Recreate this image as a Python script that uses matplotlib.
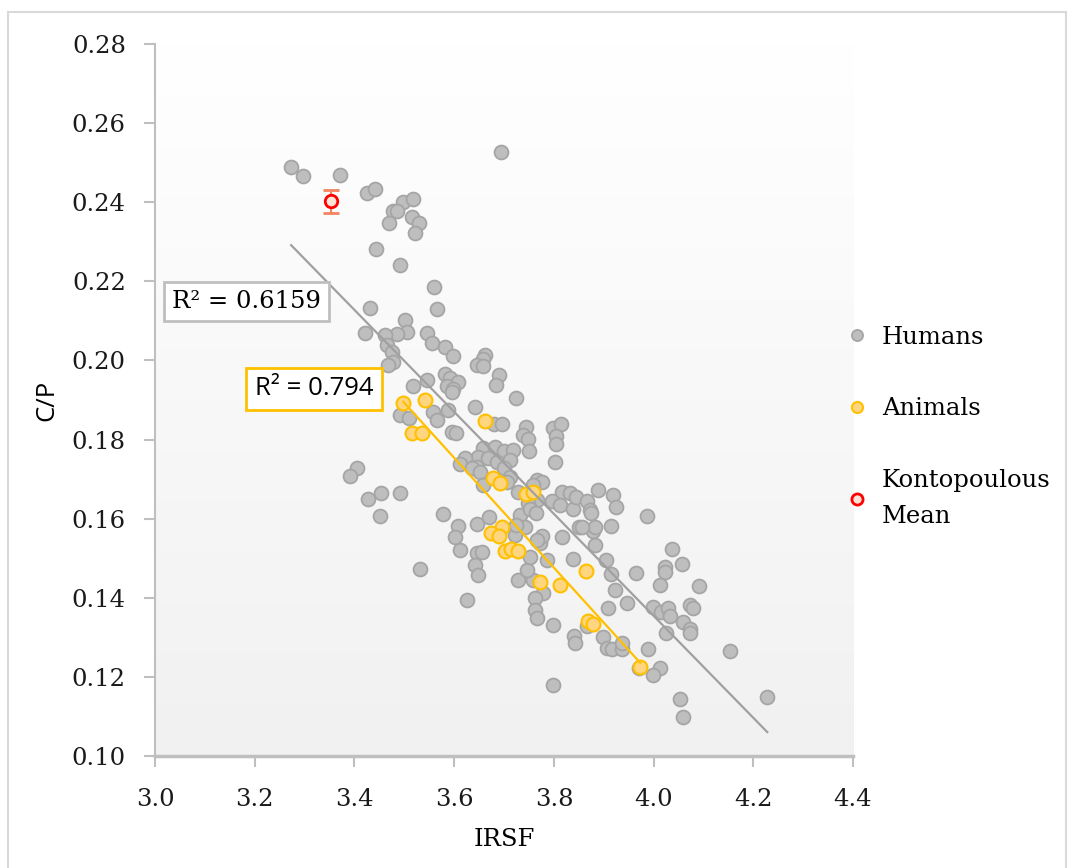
#!/usr/bin/env python3
"""C/P versus IRSF scatter with linear trendlines (Humans, Animals, Kontopoulous mean)."""

import matplotlib

matplotlib.use("Agg")
import matplotlib.pyplot as plt
import numpy as np
from matplotlib.colors import LinearSegmentedColormap
from matplotlib.lines import Line2D
from matplotlib.patches import Rectangle

# ---- data ----
humans_irsf = [
    3.273, 3.297, 3.372, 3.425, 3.441, 3.498, 3.517, 3.477, 3.486, 3.470,
    3.515, 3.530, 3.521, 3.694, 3.443, 3.491, 3.560, 3.565, 3.431, 3.501,
    3.505, 3.485, 3.421, 3.461, 3.545, 3.465, 3.475, 3.478, 3.468, 3.555,
    3.582, 3.597, 3.662, 3.658, 3.645, 3.658, 3.689, 3.683, 3.582, 3.592,
    3.608, 3.585, 3.598, 3.595, 3.545, 3.517, 3.725, 3.642, 3.588, 3.679,
    3.695, 3.558, 3.565, 3.491, 3.510, 3.595, 3.604, 3.745, 3.739, 3.749,
    3.799, 3.814, 3.804, 3.804, 3.802, 3.751, 3.658, 3.682, 3.699, 3.719,
    3.648, 3.668, 3.685, 3.712, 3.645, 3.699, 3.712, 3.705, 3.729, 3.622,
    3.612, 3.635, 3.652, 3.657, 3.766, 3.776, 3.759, 3.816, 3.832, 3.796,
    3.812, 3.839, 3.766, 3.749, 3.732, 3.752, 3.765, 3.889, 3.919, 3.925,
    3.844, 3.866, 3.872, 3.874, 3.986, 3.851, 3.878, 3.882, 3.915, 3.856,
    3.817, 3.882, 3.772, 3.776, 3.766, 3.839, 3.786, 3.905, 3.914, 3.964,
    3.922, 3.946, 3.909, 3.866, 3.899, 3.906, 3.916, 3.936, 3.936, 3.840,
    3.842, 3.798, 3.799, 3.779, 3.762, 3.762, 3.766, 3.759, 3.729, 3.747,
    3.752, 3.742, 3.722, 3.725, 3.608, 3.645, 3.602, 3.612, 3.645, 3.655,
    3.642, 3.648, 3.626, 3.578, 3.670, 3.405, 3.391, 3.428, 3.453, 3.491,
    3.451, 3.531, 4.037, 4.056, 4.023, 4.023, 4.012, 4.091, 3.998, 4.015,
    4.028, 4.033, 4.073, 4.080, 4.058, 4.072, 4.074, 4.025, 4.153, 3.989,
    4.013, 3.999, 3.970, 4.053, 4.058, 4.228,
]
humans_cp = [
    0.2488, 0.2466, 0.2469, 0.2423, 0.2433, 0.2401, 0.2407, 0.2379, 0.2379, 0.2347,
    0.2362, 0.2348, 0.2323, 0.2526, 0.2281, 0.2241, 0.2186, 0.2129, 0.2132, 0.2102,
    0.2073, 0.2067, 0.2070, 0.2064, 0.2069, 0.2039, 0.2022, 0.1997, 0.1988, 0.2043,
    0.2035, 0.2011, 0.2014, 0.2003, 0.1988, 0.1986, 0.1963, 0.1938, 0.1967, 0.1955,
    0.1946, 0.1935, 0.1929, 0.1921, 0.1950, 0.1935, 0.1904, 0.1883, 0.1875, 0.1839,
    0.1839, 0.1870, 0.1849, 0.1862, 0.1854, 0.1820, 0.1817, 0.1833, 0.1812, 0.1801,
    0.1829, 0.1840, 0.1809, 0.1788, 0.1744, 0.1772, 0.1779, 0.1782, 0.1770, 0.1774,
    0.1757, 0.1753, 0.1744, 0.1748, 0.1731, 0.1727, 0.1706, 0.1693, 0.1668, 0.1753,
    0.1738, 0.1727, 0.1719, 0.1685, 0.1698, 0.1694, 0.1685, 0.1667, 0.1664, 0.1645,
    0.1635, 0.1625, 0.1647, 0.1639, 0.1609, 0.1624, 0.1615, 0.1672, 0.1660, 0.1629,
    0.1654, 0.1645, 0.1622, 0.1615, 0.1607, 0.1578, 0.1570, 0.1578, 0.1581, 0.1580,
    0.1553, 0.1533, 0.1538, 0.1555, 0.1546, 0.1497, 0.1496, 0.1495, 0.1460, 0.1462,
    0.1420, 0.1388, 0.1373, 0.1329, 0.1302, 0.1273, 0.1270, 0.1270, 0.1285, 0.1303,
    0.1285, 0.1331, 0.1180, 0.1411, 0.1399, 0.1369, 0.1348, 0.1445, 0.1445, 0.1470,
    0.1504, 0.1580, 0.1559, 0.1584, 0.1581, 0.1587, 0.1553, 0.1521, 0.1512, 0.1517,
    0.1483, 0.1458, 0.1394, 0.1611, 0.1605, 0.1727, 0.1708, 0.1651, 0.1664, 0.1664,
    0.1607, 0.1473, 0.1523, 0.1485, 0.1479, 0.1466, 0.1432, 0.1430, 0.1377, 0.1365,
    0.1373, 0.1354, 0.1382, 0.1373, 0.1340, 0.1320, 0.1312, 0.1312, 0.1266, 0.1270,
    0.1222, 0.1205, 0.1222, 0.1143, 0.1098, 0.1150,
]

animals_irsf = [
    3.498, 3.542, 3.515, 3.535, 3.662, 3.677, 3.692, 3.745, 3.759, 3.695,
    3.674, 3.689, 3.702, 3.715, 3.729, 3.772, 3.812, 3.864, 3.869, 3.879,
    3.973,
]
animals_cp = [
    0.1892, 0.1900, 0.1817, 0.1817, 0.1847, 0.1704, 0.1689, 0.1662, 0.1667, 0.1580,
    0.1563, 0.1557, 0.1519, 0.1523, 0.1519, 0.1441, 0.1433, 0.1469, 0.1342, 0.1335,
    0.1226,
]

kontopoulous_irsf = [3.354]
kontopoulous_cp = [0.2402]
kontopoulous_err = [0.003]

series_labels = ["Humans", "Animals", "Kontopoulous\nMean"]
r2_labels = ["R\u00b2 = 0.6159", "R\u00b2 = 0.794"]

x_ticks = [3.0, 3.2, 3.4, 3.6, 3.8, 4.0, 4.2, 4.4]
y_ticks = [0.10, 0.12, 0.14, 0.16, 0.18, 0.20, 0.22, 0.24, 0.26, 0.28]

GRAY_FACE = "#BEBEBE"
GRAY_EDGE = "#A5A5A5"
GOLD_FACE = "#FFD580"
GOLD_EDGE = "#FFC000"
AXIS_GRAY = "#BFBFBF"
FS = 17.5

plt.rcParams["font.family"] = ["DejaVu Serif"]


def trendline(ax, xs, ys, color):
    xs = np.asarray(xs)
    ys = np.asarray(ys)
    slope, intercept = np.polyfit(xs, ys, 1)
    xx = np.array([xs.min(), xs.max()])
    ax.plot(xx, slope * xx + intercept, color=color, lw=1.6, zorder=4)


fig = plt.figure(figsize=(10.71, 8.68), dpi=100)
ax = fig.add_axes([0.1447, 0.129, 0.6518, 0.8203])

# plot area gradient (white at top -> light gray at bottom)
grad = LinearSegmentedColormap.from_list("bg", ["#FFFFFF", "#F1F1F1"])
ax.imshow(np.linspace(0, 1, 256).reshape(-1, 1), cmap=grad, aspect="auto",
          extent=[0, 1, 0, 1], transform=ax.transAxes, zorder=0)

ax.scatter(humans_irsf, humans_cp, s=100, facecolor=GRAY_FACE, edgecolor=GRAY_EDGE,
           linewidth=1.3, zorder=2)
ax.scatter(animals_irsf, animals_cp, s=100, facecolor=GOLD_FACE, edgecolor=GOLD_EDGE,
           linewidth=1.5, zorder=3)
ax.errorbar(kontopoulous_irsf, kontopoulous_cp, yerr=kontopoulous_err, fmt="o",
            ms=9, mfc="#FCE4D6", mec="#FF0000", mew=2, ecolor="#F4845F",
            elinewidth=1.5, capsize=6, capthick=1.5, zorder=5)

trendline(ax, humans_irsf, humans_cp, "#A0A0A0")
trendline(ax, animals_irsf, animals_cp, GOLD_EDGE)

ax.text(3.183, 0.2148, r2_labels[0], ha="center", va="center", fontsize=FS,
        bbox=dict(boxstyle="square,pad=0.33", fc="white", ec=AXIS_GRAY, lw=2), zorder=6)
ax.text(3.319, 0.1928, r2_labels[1], ha="center", va="center", fontsize=FS + 1,
        family="Open Sans",
        bbox=dict(boxstyle="square,pad=0.33", fc="white", ec=GOLD_EDGE, lw=2), zorder=6)

ax.set_xlim(3.0, 4.4)
ax.set_ylim(0.10, 0.28)
ax.set_xticks(x_ticks)
ax.set_yticks(y_ticks)
ax.set_xticklabels([f"{v:.1f}" for v in x_ticks])
ax.set_yticklabels([f"{v:.2f}" for v in y_ticks])
ax.tick_params(axis="both", direction="out", length=8, width=1.5, color=AXIS_GRAY,
               labelsize=FS, labelcolor="#1a1a1a")
ax.tick_params(axis="y", pad=13)
ax.tick_params(axis="x", pad=15)

for side in ("top", "right"):
    ax.spines[side].set_visible(False)
ax.spines["left"].set_color(AXIS_GRAY)
ax.spines["left"].set_linewidth(1.5)
ax.spines["bottom"].set_color(AXIS_GRAY)
ax.spines["bottom"].set_linewidth(2.5)

ax.set_xlabel("IRSF", fontsize=FS, labelpad=12)
ax.set_ylabel("C/P", fontsize=FS + 1, family="Open Sans", labelpad=9)

handles = [
    Line2D([], [], ls="none", marker="o", ms=8, mfc=GRAY_FACE, mec=GRAY_EDGE, mew=1.3),
    Line2D([], [], ls="none", marker="o", ms=8, mfc=GOLD_FACE, mec=GOLD_EDGE, mew=1.5),
    Line2D([], [], ls="none", marker="o", ms=8, mfc="#FCE4D6", mec="#FF0000", mew=2),
]
leg = fig.legend(handles, series_labels, loc="center left", bbox_to_anchor=(0.768, 0.508),
                 frameon=False, fontsize=FS, labelspacing=2.0, handletextpad=0.55,
                 handlelength=1.0)
for t in leg.get_texts():
    t.set_linespacing(1.75)

# light outer chart border
fig.patches.append(Rectangle((8 / 1071, -0.01), 1058 / 1071, 1.01 - 12 / 868,
                             transform=fig.transFigure, fill=False, ec="#D9D9D9",
                             lw=1.5, zorder=-1))

fig.savefig("out.png", dpi=100)
